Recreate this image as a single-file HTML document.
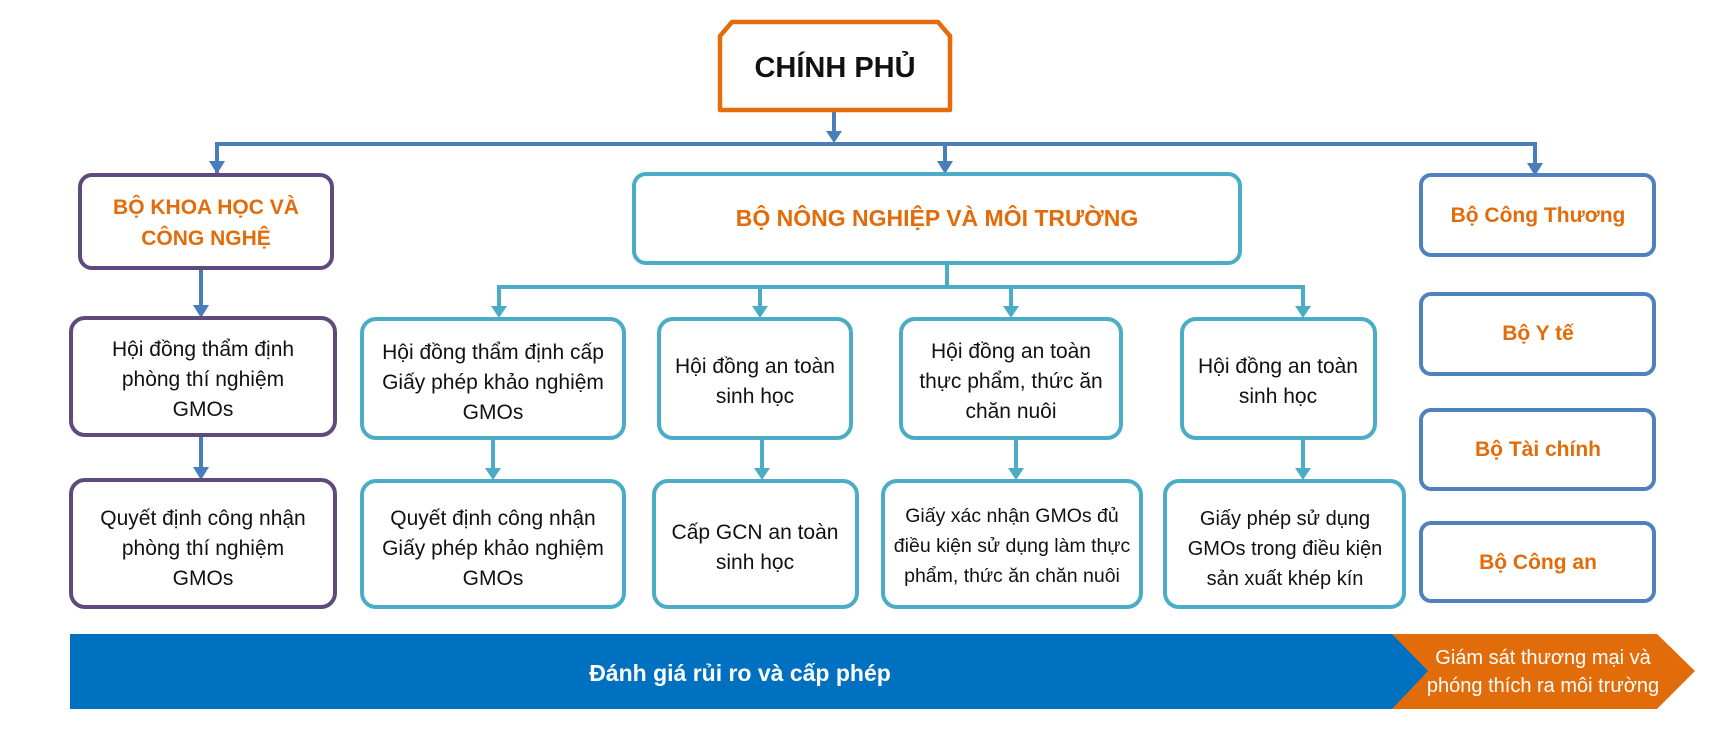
<!DOCTYPE html>
<html><head><meta charset="utf-8"><style>
html,body{margin:0;padding:0;background:#fff;}
svg{display:block;}
text{font-family:"Liberation Sans","DejaVu Sans",sans-serif;}
.t{font-size:21px;fill:#111;text-anchor:middle;}
.o{font-size:21px;fill:#E36C0A;font-weight:bold;text-anchor:middle;}
</style></head><body>
<svg width="1727" height="731" viewBox="0 0 1727 731" xmlns="http://www.w3.org/2000/svg">
<g stroke="#4A7EBB" stroke-width="4" fill="none">
<line x1="834" y1="110" x2="834" y2="133"/>
<polyline points="217,173 217,144 1535,144 1535,165"/>
<line x1="945" y1="144" x2="945" y2="163"/>
<line x1="201" y1="268" x2="201" y2="308"/>
<line x1="201" y1="435" x2="201" y2="470"/>
</g>
<g fill="#4A7EBB">
<path d="M826,131 L842,131 L834,143 Z"/>
<path d="M209,161 L225,161 L217,174 Z"/>
<path d="M937,161 L953,161 L945,174 Z"/>
<path d="M1527,163 L1543,163 L1535,176 Z"/>
<path d="M193,305 L209,305 L201,318 Z"/>
<path d="M193,467 L209,467 L201,480 Z"/>
</g>
<g stroke="#4BACC6" stroke-width="4" fill="none">
<line x1="947" y1="264" x2="947" y2="287"/>
<polyline points="499,310 499,287 1303,287 1303,310"/>
<line x1="760" y1="287" x2="760" y2="310"/>
<line x1="1011" y1="287" x2="1011" y2="310"/>
<line x1="493" y1="438" x2="493" y2="470"/>
<line x1="762" y1="438" x2="762" y2="470"/>
<line x1="1016" y1="438" x2="1016" y2="470"/>
<line x1="1303" y1="438" x2="1303" y2="470"/>
</g>
<g fill="#4BACC6">
<path d="M491,306 L507,306 L499,318 Z"/>
<path d="M752,306 L768,306 L760,318 Z"/>
<path d="M1003,306 L1019,306 L1011,318 Z"/>
<path d="M1295,306 L1311,306 L1303,318 Z"/>
<path d="M485,468 L501,468 L493,480 Z"/>
<path d="M754,468 L770,468 L762,480 Z"/>
<path d="M1008,468 L1024,468 L1016,480 Z"/>
<path d="M1295,468 L1311,468 L1303,480 Z"/>
</g>
<path d="M732,22 L938,22 L950,36 L950,110 L720,110 L720,36 Z" fill="#fff" stroke="#E46C0A" stroke-width="4.5" stroke-linejoin="round"/>
<text x="835" y="77" style="font-size:29px;font-weight:bold;fill:#111;text-anchor:middle">CHÍNH PHỦ</text>
<g fill="#fff" stroke="#604A7B" stroke-width="4">
<rect x="80" y="175" width="252" height="93" rx="12"/>
<rect x="71" y="318" width="264" height="117" rx="14"/>
<rect x="71" y="480" width="264" height="127" rx="14"/>
</g>
<text class="o" x="206" y="214">BỘ KHOA HỌC VÀ</text>
<text class="o" x="206" y="245">CÔNG NGHỆ</text>
<text class="t" x="203" y="356">Hội đồng thẩm định</text>
<text class="t" x="203" y="386">phòng thí nghiệm</text>
<text class="t" x="203" y="416">GMOs</text>
<text class="t" x="203" y="525">Quyết định công nhận</text>
<text class="t" x="203" y="555">phòng thí nghiệm</text>
<text class="t" x="203" y="585">GMOs</text>
<g fill="#fff" stroke="#4BACC6" stroke-width="4">
<rect x="634" y="174" width="606" height="89" rx="12"/>
<rect x="362" y="319" width="262" height="119" rx="14"/>
<rect x="659" y="319" width="192" height="119" rx="14"/>
<rect x="901" y="319" width="220" height="119" rx="14"/>
<rect x="1182" y="319" width="193" height="119" rx="14"/>
<rect x="362" y="481" width="262" height="126" rx="14"/>
<rect x="654" y="481" width="203" height="126" rx="14"/>
<rect x="883" y="481" width="258" height="126" rx="14"/>
<rect x="1165" y="481" width="239" height="126" rx="14"/>
</g>
<text class="o" x="937" y="226" style="font-size:23px">BỘ NÔNG NGHIỆP VÀ MÔI TRƯỜNG</text>
<text class="t" x="493" y="359">Hội đồng thẩm định cấp</text>
<text class="t" x="493" y="389">Giấy phép khảo nghiệm</text>
<text class="t" x="493" y="419">GMOs</text>
<text class="t" x="755" y="373">Hội đồng an toàn</text>
<text class="t" x="755" y="403">sinh học</text>
<text class="t" x="1011" y="358">Hội đồng an toàn</text>
<text class="t" x="1011" y="388">thực phẩm, thức ăn</text>
<text class="t" x="1011" y="418">chăn nuôi</text>
<text class="t" x="1278" y="373">Hội đồng an toàn</text>
<text class="t" x="1278" y="403">sinh học</text>
<text class="t" x="493" y="525">Quyết định công nhận</text>
<text class="t" x="493" y="555">Giấy phép khảo nghiệm</text>
<text class="t" x="493" y="585">GMOs</text>
<text class="t" x="755" y="539">Cấp GCN an toàn</text>
<text class="t" x="755" y="569">sinh học</text>
<text class="t" x="1012" y="522" style="font-size:19.5px">Giấy xác nhận GMOs đủ</text>
<text class="t" x="1012" y="552" style="font-size:19.5px">điều kiện sử dụng làm thực</text>
<text class="t" x="1012" y="582" style="font-size:19.5px">phẩm, thức ăn chăn nuôi</text>
<text class="t" x="1285" y="525" style="font-size:20px">Giấy phép sử dụng</text>
<text class="t" x="1285" y="555" style="font-size:20px">GMOs trong điều kiện</text>
<text class="t" x="1285" y="585" style="font-size:20px">sản xuất khép kín</text>
<g fill="#fff" stroke="#4F81BD" stroke-width="4">
<rect x="1421" y="175" width="233" height="80" rx="10"/>
<rect x="1421" y="294" width="233" height="80" rx="10"/>
<rect x="1421" y="410" width="233" height="79" rx="10"/>
<rect x="1421" y="523" width="233" height="78" rx="10"/>
</g>
<text class="o" x="1538" y="222">Bộ Công Thương</text>
<text class="o" x="1538" y="340">Bộ Y tế</text>
<text class="o" x="1538" y="456">Bộ Tài chính</text>
<text class="o" x="1538" y="569">Bộ Công an</text>
<rect x="70" y="634" width="1360" height="75" fill="#0070C0"/>
<path d="M1392,634 L1657,634 L1695,671 L1657,709 L1392,709 L1428,671 Z" fill="#E36C0A"/>
<text x="740" y="681" style="font-size:23px;font-weight:bold;fill:#fff;text-anchor:middle">Đánh giá rủi ro và cấp phép</text>
<text x="1543" y="664" style="font-size:20px;fill:#fff;text-anchor:middle">Giám sát thương mại và</text>
<text x="1543" y="692" style="font-size:20px;fill:#fff;text-anchor:middle">phóng thích ra môi trường</text>
</svg>
</body></html>
